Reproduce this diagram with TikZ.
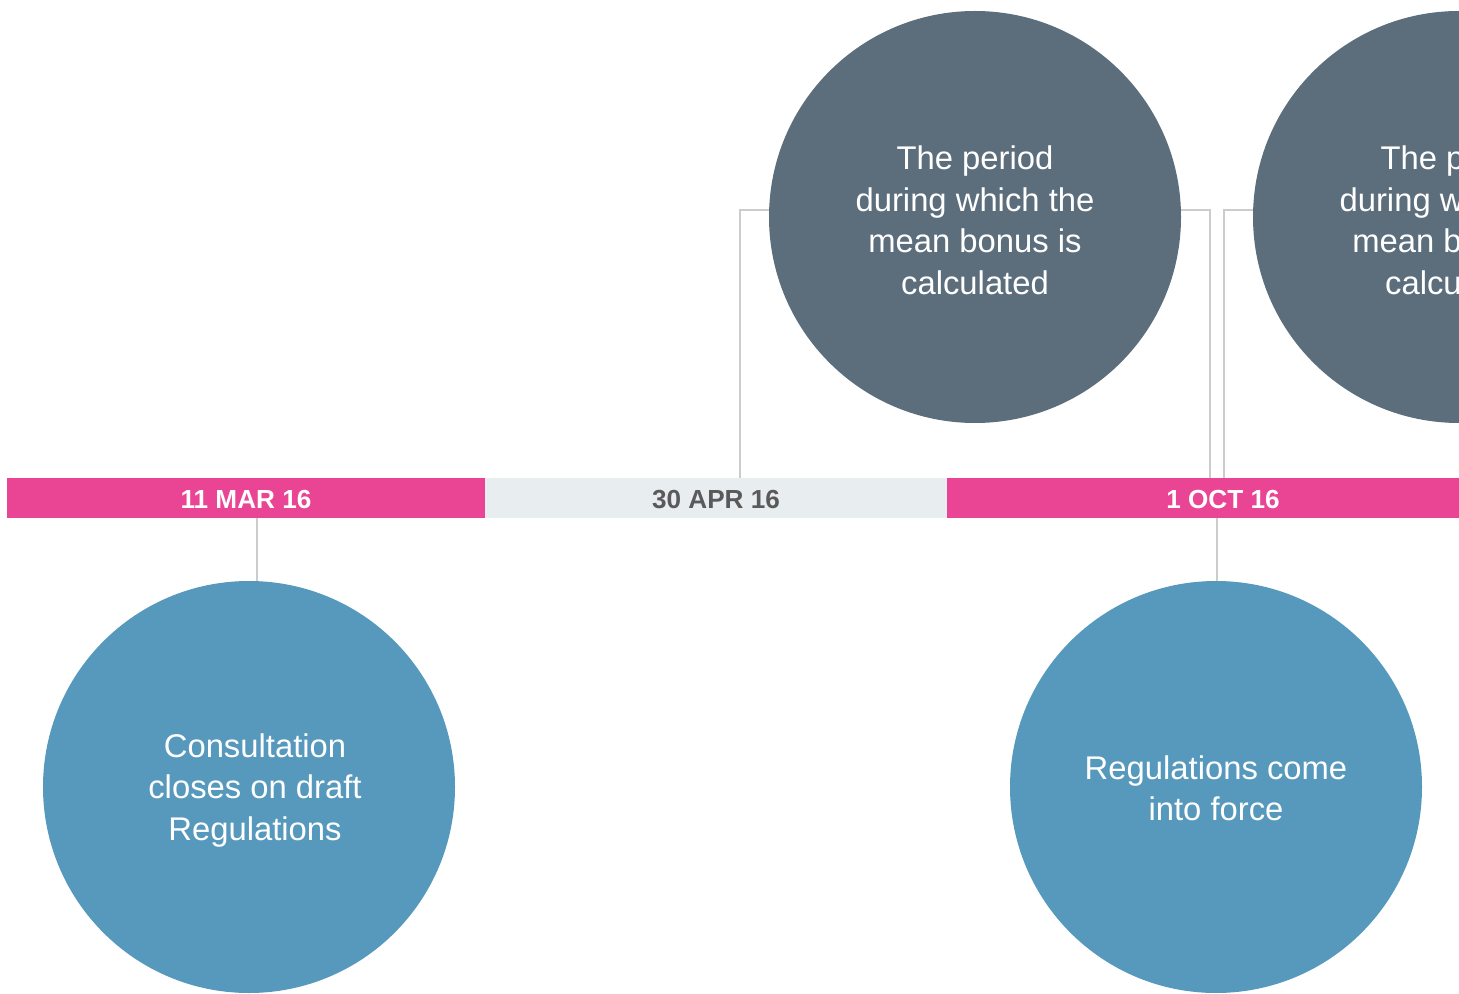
\documentclass[tikz,border=0pt]{standalone}
\usepackage{fontspec}
\setmainfont{Liberation Sans}
\definecolor{pinkbar}{HTML}{EA4595}
\definecolor{greybar}{HTML}{E8EDF0}
\definecolor{darkcirc}{HTML}{5C6E7C}
\definecolor{bluecirc}{HTML}{5699BD}
\definecolor{connc}{HTML}{CCCCCC}
\definecolor{datec}{HTML}{5A5A5A}
\begin{document}
\begin{tikzpicture}[x=0.75pt,y=-0.75pt,
  seg/.style={rectangle,inner sep=0pt,minimum height=30pt,text height=16pt,text depth=0pt,
    font=\fontsize{19.6}{22}\selectfont\bfseries},
  bubble/.style={circle,inner sep=0pt,minimum size=309pt},
  btext/.style={inner sep=0pt,text=white,align=center,font=\fontsize{24.6}{31.3}\selectfont},
  conn/.style={draw=connc,line width=1.5pt}]
\useasboundingbox (0,0) rectangle (1459,994);
\clip (0,0) rectangle (1459,994);
% bar segments
\node[seg,fill=pinkbar,text=white,minimum width=358.5pt] (s1) at (246,498) {11 MAR 16};
\node[seg,fill=greybar,text=datec,minimum width=346.5pt] (s2) at (716,498) {30 APR 16};
\node[seg,fill=pinkbar,text=white,minimum width=384pt] (s3) at (1203,498) {\hspace*{30pt}1 OCT 16};
% elbow coordinates
\coordinate (k1) at (740,478);
\coordinate (k2) at (1210,478);
\coordinate (k3) at (1224,478);
\coordinate (b1) at (257,518);
\coordinate (b1e) at (257,590);
\coordinate (b2) at (1217,518);
\coordinate (b2e) at (1217,590);
% circles
\node[bubble] (t1) at (975,217) {};
\node[bubble] (t2) at (1459,217) {};
% connectors
\draw[conn] (t1.178) -| (k1);
\draw[conn] (t1.2) -| (k2);
\draw[conn] (t2.178) -| (k3);
\draw[conn] (b1) -- (b1e);
\draw[conn] (b2) -- (b2e);
% filled circles
\node[bubble,fill=darkcirc] (t1f) at (t1) {};
\node[bubble,fill=darkcirc] (t2f) at (t2) {};
\node[bubble,fill=bluecirc] (bb1) at (249,787) {};
\node[bubble,fill=bluecirc] (bb2) at (1216,787) {};
% texts
\node[btext] (t1t) at ([yshift=-2.5pt]t1f.center) {The period\\during which the\\mean bonus is\\calculated};
\node[btext] (t2t) at ([yshift=-2.5pt]t2f.center) {The period\\during which the\\mean bonus is\\calculated};
\node[btext] (bb1t) at ([xshift=4.5pt,yshift=-2.5pt]bb1.center) {Consultation\\closes on draft\\Regulations};
\node[btext] (bb2t) at ([yshift=-1pt]bb2.center) {Regulations come\\into force};
\end{tikzpicture}
\end{document}
